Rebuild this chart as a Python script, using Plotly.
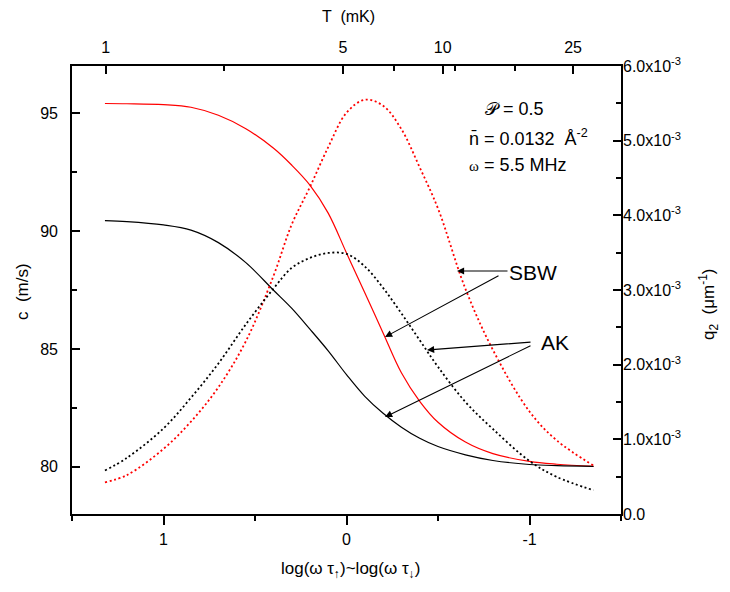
import plotly.graph_objects as go

# ---- data ----
log_wt = [1.32, 1.2, 1.0, 0.85, 0.7, 0.55, 0.4, 0.3, 0.2, 0.1, 0.0, -0.1, -0.2,
          -0.3, -0.4, -0.5, -0.65, -0.8, -1.0, -1.15, -1.35]
c_sbw = [95.41, 95.40, 95.36, 95.25, 94.91, 94.34, 93.52, 92.80, 91.95, 90.76, 89.07,
         87.38, 85.68, 83.99, 82.78, 81.89, 81.05, 80.56, 80.23, 80.11, 80.02]
c_ak = [90.44, 90.40, 90.26, 90.04, 89.51, 88.66, 87.50, 86.73, 85.84, 84.92, 83.91,
        82.99, 82.27, 81.68, 81.21, 80.86, 80.51, 80.27, 80.10, 80.05, 80.02]
# q2 in units of 1e-3 um^-1
q_sbw_e3 = [0.425, 0.521, 0.872, 1.237, 1.698, 2.314, 3.182, 3.874, 4.378, 4.913, 5.374,
            5.548, 5.468, 5.154, 4.642, 4.091, 3.015, 2.198, 1.372, 0.983, 0.648]
q_ak_e3 = [0.582, 0.751, 1.147, 1.557, 2.016, 2.540, 3.015, 3.295, 3.429, 3.496, 3.483,
           3.316, 3.028, 2.687, 2.328, 1.971, 1.500, 1.138, 0.710, 0.496, 0.318]

bottom_ticks = [1, 0, -1]
bottom_labels = ["1", "0", "-1"]
top_tick_pos = [1.316, 0.019, -0.526, -1.238]
top_tick_labels = ["1", "5", "10", "25"]
top_minor_pos = [0.669, -0.26, -0.593, -0.921]
c_ticks = [80, 85, 90, 95]
q_ticks = [0, 1e-3, 2e-3, 3e-3, 4e-3, 5e-3, 6e-3]
q_labels = ["0.0"] + ["%.1fx10<sup>-3</sup>" % v for v in [1, 2, 3, 4, 5, 6]]

q_sbw = [v * 1e-3 for v in q_sbw_e3]
q_ak = [v * 1e-3 for v in q_ak_e3]

FONT = "Arial, Liberation Sans, sans-serif"
RED = "#ff0000"
DOT = "2px,2.6px"

fig = go.Figure()
fig.add_trace(go.Scatter(x=log_wt, y=c_sbw, mode="lines", line=dict(color=RED, width=1.2, shape="spline"),
                         xaxis="x", yaxis="y", showlegend=False))
fig.add_trace(go.Scatter(x=log_wt, y=c_ak, mode="lines", line=dict(color="black", width=1.2, shape="spline"),
                         xaxis="x", yaxis="y", showlegend=False))
fig.add_trace(go.Scatter(x=log_wt, y=q_sbw, mode="lines",
                         line=dict(color=RED, width=1.8, dash=DOT, shape="spline"),
                         xaxis="x", yaxis="y2", showlegend=False))
fig.add_trace(go.Scatter(x=log_wt, y=q_ak, mode="lines",
                         line=dict(color="black", width=1.8, dash=DOT, shape="spline"),
                         xaxis="x", yaxis="y2", showlegend=False))
# invisible trace to host the top (temperature) axis
fig.add_trace(go.Scatter(x=[1.5, -1.5], y=[None, None], mode="lines", xaxis="x2", yaxis="y",
                         showlegend=False, hoverinfo="skip"))

axcommon = dict(showline=True, linecolor="black", linewidth=1.6, showgrid=False, zeroline=False,
                tickcolor="black", tickwidth=1.5, tickfont=dict(family=FONT, size=16, color="black"))

# the page body adds an 8px offset, so the figure is 8px smaller than the window
fig.update_layout(
    width=722, height=584,
    margin=dict(l=64, r=109, t=58, b=78),
    paper_bgcolor="white", plot_bgcolor="white",
    font=dict(family=FONT, color="black"),
    xaxis=dict(range=[1.5, -1.5], tickmode="array", tickvals=bottom_ticks, ticktext=bottom_labels,
               ticks="outside", ticklen=9, anchor="y",
               minor=dict(tickmode="array", tickvals=[1.5, 0.5, -0.5, -1.5], ticks="outside",
                          ticklen=5, tickcolor="black", tickwidth=1.5),
               ticklabelstandoff=1, **axcommon),
    xaxis2=dict(range=[1.5, -1.5], overlaying="x", side="top", anchor="y", tickmode="array",
                tickvals=top_tick_pos, ticktext=top_tick_labels, ticks="inside", ticklen=8,
                minor=dict(tickmode="array", tickvals=top_minor_pos, ticks="inside",
                           ticklen=5, tickcolor="black", tickwidth=1.5),
                ticklabelstandoff=5, **axcommon),
    yaxis=dict(range=[78, 97], tickmode="array", tickvals=c_ticks, ticks="inside", ticklen=8,
               minor=dict(tickmode="array", tickvals=[82.5, 87.5, 92.5], ticks="inside",
                          ticklen=5, tickcolor="black", tickwidth=1.5),
               ticklabelstandoff=9, **axcommon),
    yaxis2=dict(range=[0, 6e-3], overlaying="y", side="right", anchor="x", tickmode="array",
                tickvals=q_ticks, ticktext=q_labels, ticks="inside", ticklen=8,
                minor=dict(tickmode="array", tickvals=[0.5e-3, 1.5e-3, 2.5e-3, 3.5e-3, 4.5e-3, 5.5e-3],
                           ticks="inside", ticklen=5, tickcolor="black", tickwidth=1.5),
                ticklabelstandoff=-3, **axcommon),
)

# helpers: window pixel -> plot-area fraction
L, R, T, B = 72, 621, 66, 514
def xp(px):
    return (px - L) / (R - L)
def yp(py):
    return (B - py) / (B - T)

def label(text, px, py, size=17, xanchor="center", angle=0):
    return dict(text=text, x=xp(px), y=yp(py), xref="paper", yref="paper", xanchor=xanchor,
                yanchor="middle", showarrow=False, textangle=angle, font=dict(size=size, family=FONT))

ann = []
ann.append(label("log(ω τ<sub>↑</sub>)~log(ω τ<sub>↓</sub>)", 350, 570, 17))
ann.append(label("T  (mK)", 348, 16, 16))
ann.append(label("c  (m/s)", 22, 292, 17, angle=-90))
ann.append(label("q<sub>2</sub>  (μm<sup>-1</sup>)", 708, 305, 17, angle=-90))
ann.append(label("𝒫 = 0.5", 483, 109, 18, "left"))
ann.append(label("n̄ = 0.0132  Å<sup>-2</sup>", 467, 137, 18, "left"))
ann.append(label("<span style='font-family:Liberation Serif;font-size:15px'>ω</span> = 5.5 MHz",
                 467, 165, 18, "left"))
ann.append(label("SBW", 507, 272, 21, "left"))
ann.append(label("AK", 539, 342, 21, "left"))
# arrows (head, tail) in window pixels
arrows = [((457, 271), (509, 271)),
          ((385, 337), (500, 275)),
          ((427, 350), (532, 342)),
          ((385, 417), (532, 345))]
for (hx, hy), (tx, ty) in arrows:
    ann.append(dict(x=xp(hx), y=yp(hy), ax=xp(tx), ay=yp(ty), xref="x domain", yref="y domain",
                    axref="x domain", ayref="y domain", showarrow=True, arrowhead=2, arrowsize=1.3,
                    arrowwidth=1.1, arrowcolor="black", text=""))
fig.update_layout(annotations=ann)

fig.write_html("out.html")
